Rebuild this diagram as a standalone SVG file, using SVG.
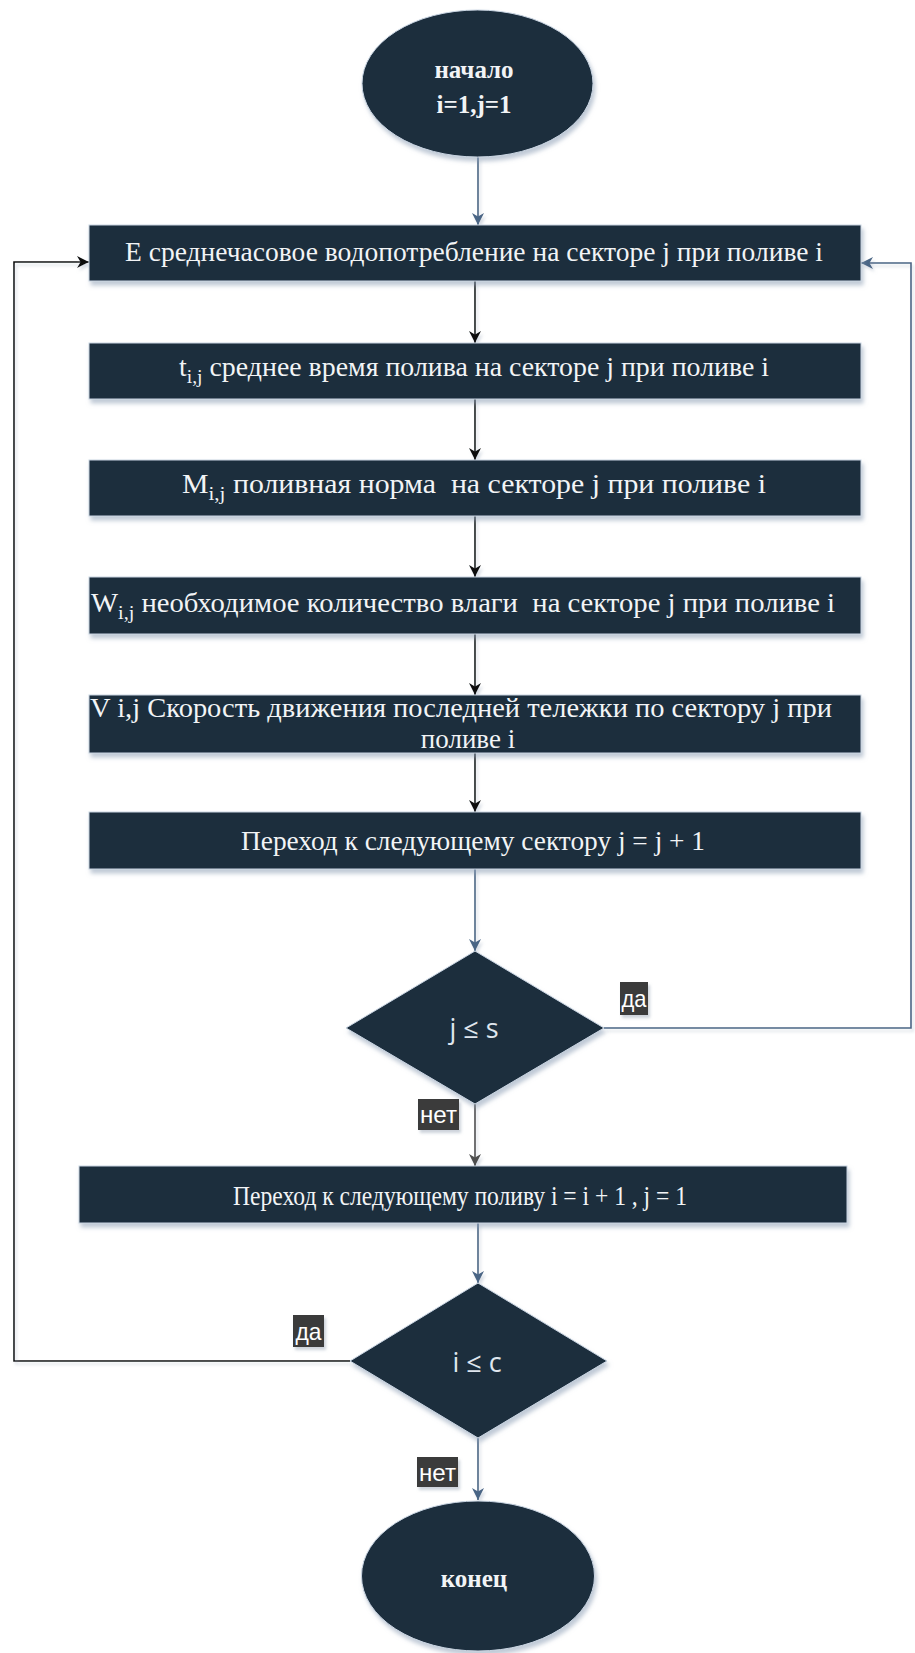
<svg xmlns="http://www.w3.org/2000/svg" width="915" height="1653" viewBox="0 0 915 1653">
<style>
.shape{fill:#1c2d3e;stroke:#c9d5e2;stroke-width:1;filter:url(#sh)}
.bt{font-family:"Liberation Serif","Times New Roman",serif;font-size:27px;fill:#f2f4f6}
.et{font-family:"Liberation Serif","Times New Roman",serif;font-size:25px;font-weight:bold;fill:#f2f4f6;text-anchor:middle}
.dt{font-family:"Open Sans","DejaVu Sans",sans-serif;font-size:27px;fill:#dfe6ee;text-anchor:middle}
.lb{fill:#3a3a3a;filter:url(#lsh)}
.lt{font-family:"Liberation Sans",Arial,sans-serif;font-size:24px;fill:#ffffff;text-anchor:middle}
.c{fill:none;stroke-width:1.6}
.k{stroke:#111111}
.b{stroke:#4a6585}
.g{stroke:#4d4d4d}
</style>
<defs>
<filter id="sh" x="-5%" y="-20%" width="115%" height="150%">
<feDropShadow dx="2" dy="4" stdDeviation="2.2" flood-color="#8a9cb4" flood-opacity="0.55"/>
</filter>
<filter id="lsh" x="-20%" y="-20%" width="150%" height="150%">
<feDropShadow dx="2" dy="3" stdDeviation="1.5" flood-color="#9aa6b6" flood-opacity="0.5"/>
</filter>
<filter id="csh" x="-5%" y="-5%" width="110%" height="110%">
<feDropShadow dx="2" dy="3" stdDeviation="1.5" flood-color="#b0bccb" flood-opacity="0.5"/>
</filter>
<marker id="ak" viewBox="0 0 12 12" refX="12" refY="6" markerWidth="12" markerHeight="12" markerUnits="userSpaceOnUse" orient="auto">
<path d="M0,0 L12,6 L0,12 L3.5,6 z" fill="#111111"/>
</marker>
<marker id="ab" viewBox="0 0 12 12" refX="12" refY="6" markerWidth="12" markerHeight="12" markerUnits="userSpaceOnUse" orient="auto">
<path d="M0,0 L12,6 L0,12 L3.5,6 z" fill="#4a6585"/>
</marker>
<marker id="ag" viewBox="0 0 12 12" refX="12" refY="6" markerWidth="12" markerHeight="12" markerUnits="userSpaceOnUse" orient="auto">
<path d="M0,0 L12,6 L0,12 L3.5,6 z" fill="#4d4d4d"/>
</marker>
</defs>
<rect width="915" height="1653" fill="#ffffff"/>

<g id="connectors" filter="url(#csh)">
<line class="c b" x1="478" y1="157" x2="478" y2="225" marker-end="url(#ab)"/>
<line class="c k" x1="475" y1="281" x2="475" y2="343" marker-end="url(#ak)"/>
<line class="c k" x1="475" y1="399" x2="475" y2="460" marker-end="url(#ak)"/>
<line class="c k" x1="475" y1="516" x2="475" y2="577" marker-end="url(#ak)"/>
<line class="c k" x1="475" y1="634" x2="475" y2="695" marker-end="url(#ak)"/>
<line class="c k" x1="475" y1="753" x2="475" y2="812" marker-end="url(#ak)"/>
<line class="c b" x1="475" y1="869" x2="475" y2="951" marker-end="url(#ab)"/>
<line class="c g" x1="475" y1="1104" x2="475" y2="1166" marker-end="url(#ag)"/>
<polyline class="c b" points="604,1028 911,1028 911,263 861,263" marker-end="url(#ab)"/>
<line class="c b" x1="478" y1="1223" x2="478" y2="1283" marker-end="url(#ab)"/>
<polyline class="c k" points="350,1361 14,1361 14,262 89,262" marker-end="url(#ak)"/>
<line class="c b" x1="478" y1="1438" x2="478" y2="1500" marker-end="url(#ab)"/>
</g>

<g id="start">
<ellipse class="shape" cx="477.5" cy="83.5" rx="115.5" ry="73.5"/>
<text class="et" x="474" y="78">начало</text>
<text class="et" x="474" y="113">i=1,j=1</text>
</g>

<g id="box-e">
<rect class="shape" x="89" y="225" width="772" height="56"/>
<text class="bt" x="125" y="261" textLength="698" lengthAdjust="spacingAndGlyphs">E среднечасовое водопотребление на секторе j при поливе i</text>
</g>

<g id="box-t">
<rect class="shape" x="89" y="343" width="772" height="56"/>
<text class="bt" x="179" y="376" textLength="590" lengthAdjust="spacingAndGlyphs">t<tspan font-size="19" dy="7">i,j</tspan><tspan dy="-7"> среднее время полива на секторе j при поливе i</tspan></text>
</g>

<g id="box-m">
<rect class="shape" x="89" y="460" width="772" height="56"/>
<text class="bt" x="182" y="493" textLength="584" lengthAdjust="spacingAndGlyphs" xml:space="preserve">M<tspan font-size="19" dy="7">i,j</tspan><tspan dy="-7"> поливная норма  на секторе j при поливе i</tspan></text>
</g>

<g id="box-w">
<rect class="shape" x="89" y="577" width="772" height="57"/>
<text class="bt" x="91" y="612" textLength="744" lengthAdjust="spacingAndGlyphs" xml:space="preserve">W<tspan font-size="19" dy="7">i,j</tspan><tspan dy="-7"> необходимое количество влаги  на секторе j при поливе i</tspan></text>
</g>

<g id="box-v">
<rect class="shape" x="89" y="695" width="772" height="58"/>
<text class="bt" x="90" y="717" textLength="742" lengthAdjust="spacingAndGlyphs">V i,j Скорость движения последней тележки по сектору j при</text>
<text class="bt" x="468" y="748" text-anchor="middle">поливе i</text>
</g>

<g id="box-next-sector">
<rect class="shape" x="89" y="812" width="772" height="57"/>
<text class="bt" x="241" y="850" textLength="464" lengthAdjust="spacingAndGlyphs">Переход к следующему сектору j = j + 1</text>
</g>

<g id="decision-j">
<polygon class="shape" points="346,1028 475,951 604,1028 475,1104"/>
<text class="dt" x="474" y="1038">j ≤ s</text>
</g>

<g id="label-yes-1">
<rect class="lb" x="620" y="982" width="28" height="33"/>
<text class="lt" x="634" y="1007" textLength="25" lengthAdjust="spacingAndGlyphs">да</text>
</g>

<g id="label-no-1">
<rect class="lb" x="418" y="1099" width="41" height="31"/>
<text class="lt" x="438.5" y="1123" textLength="37" lengthAdjust="spacingAndGlyphs">нет</text>
</g>

<g id="box-next-irrigation">
<rect class="shape" x="79" y="1166" width="768" height="57"/>
<text class="bt" x="233" y="1205" font-size="24" textLength="454" lengthAdjust="spacingAndGlyphs">Переход к следующему поливу i = i + 1 , j = 1</text>
</g>

<g id="decision-i">
<polygon class="shape" points="350,1361 478,1283 607,1361 478,1438"/>
<text class="dt" x="477" y="1372">i ≤ c</text>
</g>

<g id="label-yes-2">
<rect class="lb" x="293" y="1315" width="31" height="32"/>
<text class="lt" x="308.5" y="1340" textLength="26" lengthAdjust="spacingAndGlyphs">да</text>
</g>

<g id="label-no-2">
<rect class="lb" x="417" y="1457" width="41" height="30"/>
<text class="lt" x="437.5" y="1481" textLength="37" lengthAdjust="spacingAndGlyphs">нет</text>
</g>

<g id="end">
<ellipse class="shape" cx="478" cy="1576" rx="116.5" ry="75"/>
<text class="et" x="474" y="1587" font-size="27">конец</text>
</g>
</svg>
